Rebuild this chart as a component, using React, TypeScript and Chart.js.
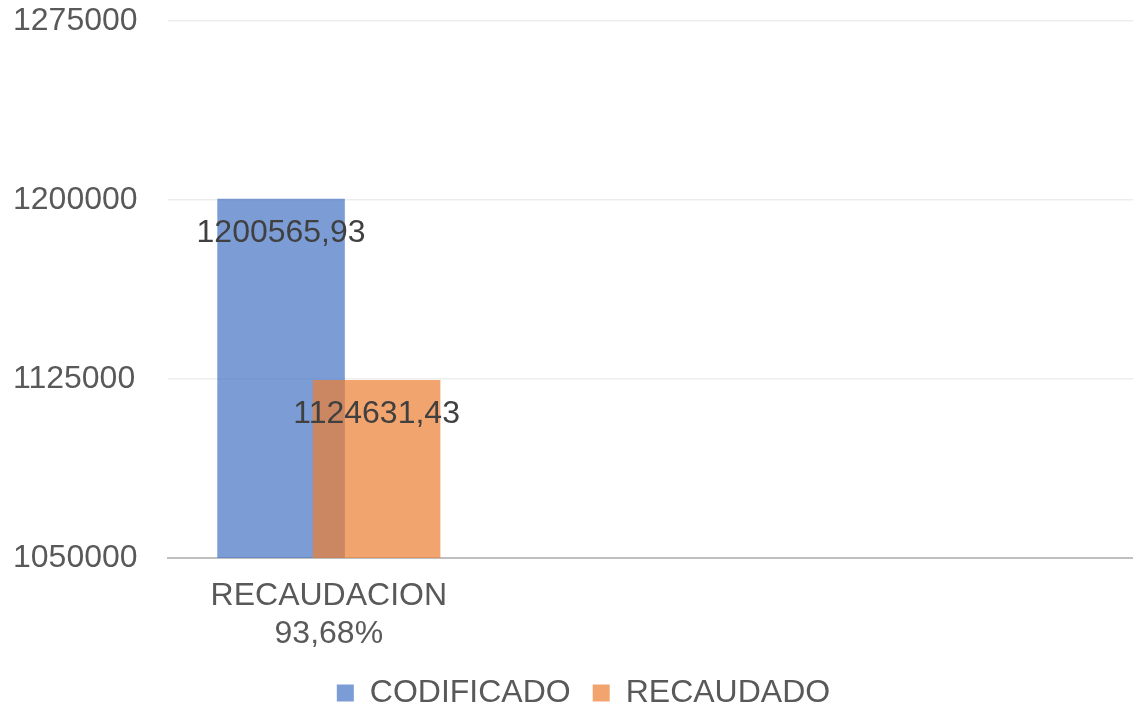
import React, { useEffect, useRef } from "react";
import { Chart, registerables } from "chart.js";

Chart.register(...registerables);

const categories: (string | string[])[] = [["RECAUDACION", "93,68%"], "", ""];
const codificado: (number | null)[] = [1200565.93, null, null];
const recaudado: (number | null)[] = [1124631.43, null, null];
const seriesNames = ["CODIFICADO", "RECAUDADO"];
const yMin = 1050000;
const yMax = 1275000;
const yStep = 75000;

const FONT = "'Liberation Sans', Arial, sans-serif";

const fmt = (v: number) => v.toFixed(2).replace(".", ",");

// Draw the second series on top of the first (Excel overlap order), then labels.
const overlapAndLabels = {
  id: "overlapAndLabels",
  beforeDatasetDraw(chart: any, args: any) {
    if (args.index === 1 && !chart.$drawingTop) return false;
  },
  afterDatasetsDraw(chart: any) {
    const ctx = chart.ctx;
    const a = chart.chartArea;
    const meta1 = chart.getDatasetMeta(1);
    if (meta1 && meta1.visible !== false) {
      ctx.save();
      ctx.beginPath();
      ctx.rect(a.left, a.top, a.right - a.left, a.bottom - a.top);
      ctx.clip();
      chart.$drawingTop = true;
      meta1.controller.draw();
      chart.$drawingTop = false;
      ctx.restore();
    }
    ctx.save();
    ctx.font = `32px ${FONT}`;
    ctx.fillStyle = "#404040";
    ctx.textAlign = "center";
    ctx.textBaseline = "alphabetic";
    chart.data.datasets.forEach((ds: any, di: number) => {
      const meta = chart.getDatasetMeta(di);
      meta.data.forEach((el: any, i: number) => {
        const v = ds.data[i];
        if (v == null) return;
        ctx.fillText(fmt(v), el.x, el.y + 43);
      });
    });
    ctx.restore();
  },
};

export default function App() {
  const ref = useRef<HTMLCanvasElement | null>(null);
  useEffect(() => {
    if (!ref.current) return;
    const chart = new Chart(ref.current, {
      type: "bar",
      data: {
        labels: categories,
        datasets: [
          {
            label: seriesNames[0],
            data: codificado,
            backgroundColor: "rgba(68,114,196,0.7)",
            borderWidth: 0,
          },
          {
            label: seriesNames[1],
            data: recaudado,
            backgroundColor: "rgba(237,125,49,0.7)",
            borderWidth: 0,
          },
        ],
      },
      options: {
        animation: false,
        responsive: false,
        maintainAspectRatio: false,
        devicePixelRatio: 1,
        layout: { padding: { top: 21, right: 0, left: 34, bottom: -10 } },
        datasets: {
          bar: { categoryPercentage: 0.594, barPercentage: 1.335 },
        },
        plugins: {
          tooltip: { enabled: false },
          legend: {
            position: "bottom",
            labels: {
              boxWidth: 17,
              boxHeight: 17,
              padding: 22,
              color: "#595959",
              font: { size: 32, family: FONT },
            },
          },
        },
        scales: {
          x: {
            grid: { display: false, drawTicks: false },
            border: { display: true, color: "#BFBFBF", width: 2 },
            afterFit(scale: any) {
              scale.height = 97;
            },
            ticks: {
              color: "#595959",
              font: { size: 32, family: FONT },
              padding: 19,
              maxRotation: 0,
              autoSkip: false,
            },
          },
          y: {
            min: yMin,
            max: yMax,
            grid: { color: "#EDEDED", lineWidth: 1.5, drawTicks: false },
            border: { display: false },
            afterFit(scale: any) {
              scale.width = 134;
              scale.paddingTop = 0;
              scale.paddingBottom = 0;
            },
            ticks: {
              stepSize: yStep,
              color: "#595959",
              font: { size: 32, family: FONT },
              mirror: true,
              padding: -155,
              callback: (v: any) => String(v),
            },
          },
        },
      },
      plugins: [overlapAndLabels],
    });
    return () => chart.destroy();
  }, []);
  return (
    <div style={{ position: "absolute", left: 0, top: 0, width: 1133, height: 709, background: "#fff" }}>
      <canvas ref={ref} width={1133} height={709} style={{ display: "block" }} />
    </div>
  );
}
